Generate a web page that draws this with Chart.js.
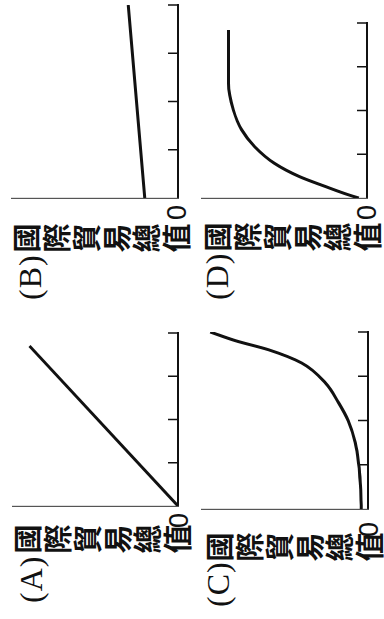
<!DOCTYPE html>
<html>
<head>
<meta charset="utf-8">
<title>國際貿易總值</title>
<script src="https://cdn.jsdelivr.net/npm/chart.js"></script>
<style>
	html, body { margin: 0; padding: 0; background: #fff; overflow: hidden; }
	/* the scan is turned on its side, so the whole sheet is drawn upright and then turned */
	#page { position: absolute; left: 0; top: 0; width: 619px; height: 384px; transform-origin: 0 0; transform: translateY(619px) rotate(-90deg); }
	#page canvas { position: absolute; }
	.axis-title { position: absolute; writing-mode: vertical-rl; font-family: "Noto Sans CJK TC"; font-size: 29px; line-height: 29px; letter-spacing: 1px; font-weight: 700; color: #111; white-space: nowrap; }
	.tag { position: absolute; font-family: "Liberation Serif"; font-size: 32px; line-height: 32px; letter-spacing: 1px; color: #111; white-space: nowrap; }
	.zero { position: absolute; font-family: "Liberation Sans"; font-size: 27px; line-height: 27px; color: #111; }
</style>
</head>
<body>
<div id="page">
	<div class="tag" style="left:16px; top:15px;">(A)</div>
	<div class="axis-title" style="left:65px; top:13px;">國際貿易總值</div>
	<div class="zero" style="left:91px; top:166px;">0</div>
	<canvas id="chart_a" style="left:109px; top:9px;" width="181" height="173"></canvas>

	<div class="tag" style="left:319px; top:14px;">(B)</div>
	<div class="axis-title" style="left:366px; top:12px;">國際貿易總值</div>
	<div class="zero" style="left:399px; top:164px;">0</div>
	<canvas id="chart_b" style="left:417px; top:8px;" width="201" height="174"></canvas>

	<div class="tag" style="left:12px; top:202px;">(C)</div>
	<div class="axis-title" style="left:57px; top:205px;">國際貿易總值</div>
	<div class="zero" style="left:82px; top:356px;">0</div>
	<canvas id="chart_c" style="left:106px; top:198px;" width="185" height="174"></canvas>

	<div class="tag" style="left:319px; top:201px;">(D)</div>
	<div class="axis-title" style="left:367px; top:203px;">國際貿易總值</div>
	<div class="zero" style="left:399px; top:354px;">0</div>
	<canvas id="chart_d" style="left:417px; top:198px;" width="183" height="173"></canvas>
</div>

<script>
	// time runs 0..4 along the bottom axis, trade value 0..100 up the side
	var x_ticks = [1, 2, 3, 4];

	var a_time = [0, 3.7];
	var a_value = [0, 90];

	var b_time = [0, 4];
	var b_value = [20, 30];

	var c_time = [0, 0.6, 1.0, 1.5, 2.0, 2.4, 2.85, 3.3, 3.6, 3.8, 4.0];
	var c_value = [4, 4.7, 5.6, 7.7, 12, 17.7, 25.7, 40, 60, 79.5, 95];

	var d_time = [0, 0.07, 0.26, 0.49, 0.79, 1.17, 1.56, 2.01, 2.62, 3.84];
	var d_value = [5, 11, 25, 41, 56, 68, 76, 81, 84, 84];

	// short tick marks standing up from the time axis
	var inner_ticks = {
		id: 'inner_ticks',
		afterDraw: function(chart){
			var ctx = chart.ctx;
			var area = chart.chartArea;
			var x = chart.scales.x;
			ctx.save();
			ctx.strokeStyle = '#111';
			ctx.lineWidth = 1.5;
			x_ticks.forEach(function(v){
				var px = x.getPixelForValue(v);
				ctx.beginPath();
				ctx.moveTo(px, area.bottom);
				ctx.lineTo(px, area.bottom - 10);
				ctx.stroke();
			});
			ctx.restore();
		}
	};

	function draw_chart(canvas_id, times, values, smooth){
		var points = times.map(function(t, i){
			return { x: t, y: values[i] };
		});

		return new Chart(document.getElementById(canvas_id), {
			type: 'line',
			data: {
				datasets: [
					{
						data: points,
						borderColor: '#111',
						borderWidth: 3,
						pointRadius: 0,
						fill: false,
						cubicInterpolationMode: smooth ? 'monotone' : 'default',
						tension: 0
					}
				]
			},
			options: {
				responsive: false,
				animation: false,
				events: [],
				layout: { padding: 4 },
				plugins: {
					legend: { display: false },
					tooltip: { enabled: false }
				},
				scales: {
					x: {
						type: 'linear', min: 0, max: 4,
						grid: { display: false, drawTicks: false },
						ticks: { display: false },
						border: { display: true, color: '#111', width: 2 }
					},
					y: {
						type: 'linear', min: 0, max: 100,
						grid: { display: false, drawTicks: false },
						ticks: { display: false },
						border: { display: true, color: '#555', width: 1.2 }
					}
				}
			},
			plugins: [inner_ticks]
		});
	}

	draw_chart('chart_a', a_time, a_value, false);
	draw_chart('chart_b', b_time, b_value, false);
	draw_chart('chart_c', c_time, c_value, true);
	draw_chart('chart_d', d_time, d_value, true);
</script>
</body>
</html>
